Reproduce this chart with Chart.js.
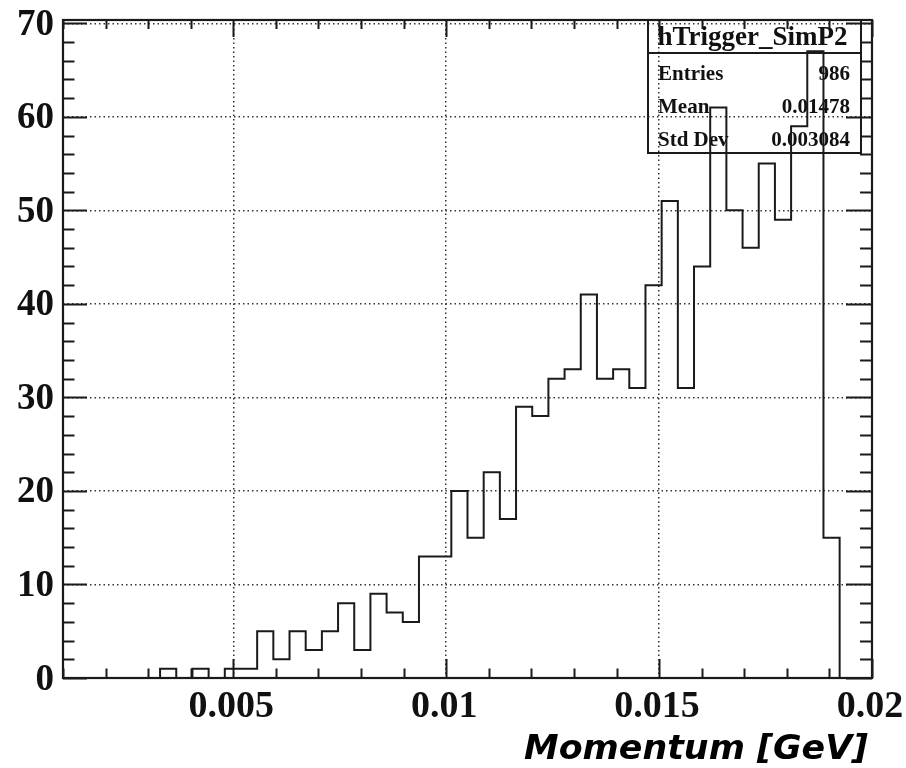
<!DOCTYPE html>
<html>
<head>
<meta charset="utf-8">
<script src="https://cdn.jsdelivr.net/npm/chart.js@4/dist/chart.umd.min.js"></script>
<style>
  html, body { margin: 0; padding: 0; background: #fff; }
  canvas { display: block; }
</style>
</head>
<body>
<canvas id="hist" width="906" height="768"></canvas>
<script>
// histogram hTrigger_SimP2: 50 bins from 0.001 to 0.02 GeV
const binLow = 0.001;
const binHigh = 0.02;
const binCounts = [
  0, 0, 0, 0, 0, 0, 1, 0, 1, 0,
  1, 1, 5, 2, 5, 3, 5, 8, 3, 9,
  7, 6, 13, 13, 20, 15, 22, 17, 29, 28,
  32, 33, 41, 32, 33, 31, 42, 51, 31, 44,
  61, 50, 46, 55, 49, 59, 67, 15, 0, 0
];
const xTickValues = [0.005, 0.01, 0.015, 0.02];
const xTickLabels = ['0.005', '0.01', '0.015', '0.02'];
const yTickValues = [0, 10, 20, 30, 40, 50, 60, 70];
const yTickLabels = ['0', '10', '20', '30', '40', '50', '60', '70'];
const xMinorStep = 0.001;
const yMinorStep = 2;
const yMax = 70.35;
const statsTitle = 'hTrigger_SimP2';
const statsNames = ['Entries', 'Mean', 'Std Dev'];
const statsValues = ['986', '0.01478', '0.003084'];
const xTitle = 'Momentum [GeV]';

const binWidth = (binHigh - binLow) / binCounts.length;
const points = binCounts.map((c, i) => ({ x: binLow + i * binWidth, y: c }));
points.push({ x: binHigh, y: 0 });

const serif = '"Liberation Serif", "Times New Roman", serif';
const ink = '#1a1a1a';

// frame, major/minor ticks on all four sides, tick labels and axis title
const frameTicks = {
  id: 'frameTicks',
  afterDraw(c) {
    const { ctx, chartArea: a, scales: { x, y } } = c;
    ctx.save();
    ctx.strokeStyle = ink;
    ctx.lineWidth = 2;
    ctx.beginPath();
    for (let v = binLow; v <= binHigh + 1e-9; v += xMinorStep) {
      const px = Math.round(x.getPixelForValue(v)) + 0.5;
      const major = xTickValues.some(t => Math.abs(t - v) < 1e-9);
      ctx.moveTo(px, a.bottom); ctx.lineTo(px, a.bottom - (major ? 19 : 9.5));
      ctx.moveTo(px, a.top); ctx.lineTo(px, a.top + (major ? 17 : 9));
    }
    for (let v = 0; v <= yMax; v += yMinorStep) {
      const py = Math.round(y.getPixelForValue(v)) + 0.5;
      const major = v % 10 === 0;
      ctx.moveTo(a.left, py); ctx.lineTo(a.left + (major ? 24 : 11.5), py);
      ctx.moveTo(a.right, py); ctx.lineTo(a.right - (major ? 26 : 12), py);
    }
    ctx.stroke();
    ctx.lineWidth = 2.2;
    ctx.strokeRect(a.left, a.top, a.right - a.left, a.bottom - a.top);

    ctx.fillStyle = '#111';
    ctx.font = 'bold 38px ' + serif;
    ctx.textAlign = 'center';
    ctx.textBaseline = 'alphabetic';
    xTickValues.forEach((v, i) => {
      ctx.fillText(xTickLabels[i], x.getPixelForValue(v) - 2, 717);
    });
    ctx.font = 'bold 37px ' + serif;
    ctx.textAlign = 'right';
    ctx.textBaseline = 'middle';
    yTickValues.forEach((v, i) => {
      ctx.fillText(yTickLabels[i], a.left - 9, y.getPixelForValue(v) + 2);
    });

    // axis title, fitted to the width it takes in the original
    ctx.fillStyle = '#000';
    ctx.font = 'bold oblique 34px "DejaVu Sans", sans-serif';
    ctx.textAlign = 'left';
    ctx.textBaseline = 'alphabetic';
    const w = ctx.measureText(xTitle).width;
    const target = 344;
    ctx.translate(868 - target, 759);
    ctx.scale(target / w, 1);
    ctx.fillText(xTitle, 0, 0);
    ctx.restore();
  }
};

// stats box, drawn under the histogram line like the original
const statsBox = {
  id: 'statsBox',
  beforeDatasetsDraw(c) {
    const { ctx } = c;
    const l = 648, r = 861, t = 20, sep = 53, b = 153;
    ctx.save();
    ctx.strokeStyle = ink;
    ctx.lineWidth = 2;
    ctx.strokeRect(l, t, r - l, b - t);
    ctx.beginPath();
    ctx.moveTo(l, sep); ctx.lineTo(r, sep);
    ctx.stroke();
    ctx.fillStyle = '#111';
    ctx.font = 'bold 27px ' + serif;
    ctx.textAlign = 'center';
    ctx.fillText(statsTitle, (l + r) / 2 - 2, 45);
    ctx.font = 'bold 21px ' + serif;
    const rows = [80, 113, 146];
    statsNames.forEach((n, i) => {
      ctx.textAlign = 'left';
      ctx.fillText(n, 658, rows[i]);
      ctx.textAlign = 'right';
      ctx.fillText(statsValues[i], 850, rows[i]);
    });
    ctx.restore();
  }
};

new Chart(document.getElementById('hist'), {
  type: 'line',
  data: {
    datasets: [{
      data: points,
      stepped: true,
      borderColor: ink,
      borderWidth: 2,
      pointRadius: 0,
      fill: false
    }]
  },
  options: {
    responsive: false,
    animation: false,
    layout: { padding: { left: 0, top: 20, right: 34, bottom: 0 } },
    plugins: { legend: { display: false }, tooltip: { enabled: false } },
    scales: {
      x: {
        type: 'linear',
        min: binLow,
        max: binHigh,
        afterBuildTicks: s => { s.ticks = xTickValues.map(v => ({ value: v })); },
        afterFit: s => { s.height = 90; },
        grid: { color: '#333', lineWidth: 1.5, drawTicks: false },
        border: { display: false, dash: [1.5, 3] },
        ticks: { display: false }
      },
      y: {
        min: 0,
        max: yMax,
        afterBuildTicks: s => { s.ticks = yTickValues.map(v => ({ value: v })); },
        afterFit: s => { s.width = 63; },
        grid: { color: '#333', lineWidth: 1.5, drawTicks: false },
        border: { display: false, dash: [1.5, 3] },
        ticks: { display: false }
      }
    }
  },
  plugins: [statsBox, frameTicks]
});
</script>
</body>
</html>
